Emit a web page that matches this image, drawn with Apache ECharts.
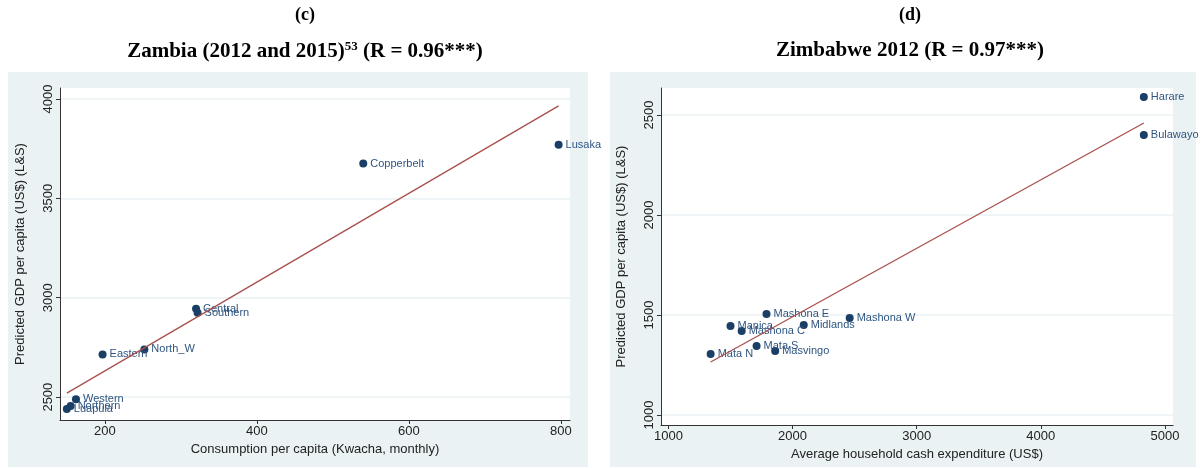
<!DOCTYPE html>
<html>
<head>
<meta charset="utf-8">
<script src="https://cdn.jsdelivr.net/npm/echarts@6/dist/echarts.min.js"></script>
<style>
  body { margin: 0; background: #fff; }
  #chart { width: 1203px; height: 468px; }
</style>
</head>
<body>
<div id="chart"></div>
<script>
// Zambia
const zNames = ['Lusaka', 'Copperbelt', 'Central', 'Southern', 'North_W', 'Eastern', 'Western', 'Northern', 'Luapula']
const zX = [797, 540, 320, 322, 252, 197, 162, 155, 150]
const zY = [3770, 3675, 2945, 2925, 2740, 2715, 2490, 2455, 2440]
const zFit = [[150, 2520], [797, 3965]]
const zTicksX = [200, 400, 600, 800]
const zTicksY = [2500, 3000, 3500, 4000]

// Zimbabwe
const wNames = ['Harare', 'Bulawayo', 'Mashona E', 'Mashona W', 'Midlands', 'Manica', 'Mashona C', 'Mata S', 'Masvingo', 'Mata N']
const wX = [4830, 4830, 1790, 2460, 2090, 1500, 1590, 1710, 1860, 1340]
const wY = [2590, 2400, 1505, 1485, 1450, 1445, 1420, 1345, 1320, 1305]
const wFit = [[1340, 1265], [4830, 2460]]
const wTicksX = [1000, 2000, 3000, 4000, 5000]
const wTicksY = [1000, 1500, 2000, 2500]

const navy = '#1a3f66'
const maroon = '#a8504c'
const panelBg = '#eaf2f3'

function pts(xs, ys, names) {
  return xs.map((x, i) => ({ value: [x, ys[i]], name: names[i] }))
}

function xAxis(idx, min, max, ticks, name) {
  return {
    gridIndex: idx, type: 'value', min, max,
    name, nameLocation: 'middle', nameGap: 22,
    nameTextStyle: { fontFamily: 'Liberation Sans', fontSize: 13, color: '#222' },
    axisLine: { lineStyle: { color: '#333' } },
    axisTick: { length: 4, customValues: ticks, lineStyle: { color: '#333' } },
    axisLabel: { fontFamily: 'Liberation Sans', fontSize: 13, color: '#222', margin: 5,
      customValues: ticks, formatter: v => String(v) },
    splitLine: { show: false }
  }
}
function yAxis(idx, min, max, ticks, name) {
  return {
    gridIndex: idx, type: 'value', min, max,
    name, nameLocation: 'middle', nameGap: 33,
    nameTextStyle: { fontFamily: 'Liberation Sans', fontSize: 13, color: '#222' },
    axisLine: { show: true, lineStyle: { color: '#333' } },
    axisTick: { show: true, length: 4, customValues: ticks, lineStyle: { color: '#333' } },
    axisLabel: { fontFamily: 'Liberation Sans', fontSize: 13, color: '#222', rotate: 90, margin: 5,
      customValues: ticks, formatter: v => String(v) },
    splitLine: { lineStyle: { color: panelBg, width: 1.5 } }
  }
}

const labelStyle = { show: true, position: 'right', distance: 3, formatter: p => p.name,
  color: '#2f5580', fontFamily: 'Liberation Sans', fontSize: 11 }

const chart = echarts.init(document.getElementById('chart'))
chart.setOption({
  animation: false,
  title: [
    { text: '(c)', left: 300, textAlign: 'center', top: 1,
      textStyle: { fontFamily: 'Liberation Serif', fontWeight: 'bold', fontSize: 18, color: '#000' } },
    { text: '{t|Zambia (2012 and 2015)}{s|53}{t| (R = 0.96***)}', left: 300, textAlign: 'center', top: 35,
      textStyle: { rich: {
        t: { fontFamily: 'Liberation Serif', fontWeight: 'bold', fontSize: 21, color: '#000' },
        s: { fontFamily: 'Liberation Serif', fontWeight: 'bold', fontSize: 13, color: '#000', verticalAlign: 'top', padding: [0, 0, 10, 0] } } } },
    { text: '(d)', left: 905, textAlign: 'center', top: 1,
      textStyle: { fontFamily: 'Liberation Serif', fontWeight: 'bold', fontSize: 18, color: '#000' } },
    { text: 'Zimbabwe 2012 (R = 0.97***)', left: 905, textAlign: 'center', top: 35,
      textStyle: { fontFamily: 'Liberation Serif', fontWeight: 'bold', fontSize: 21, color: '#000' } }
  ],
  graphic: [
    { type: 'rect', z: -10, shape: { x: 8, y: 72, width: 580, height: 395 }, style: { fill: panelBg } },
    { type: 'rect', z: -10, shape: { x: 610, y: 72, width: 586, height: 395 }, style: { fill: panelBg } }
  ],
  grid: [
    { left: 60, top: 88, width: 510, height: 332, show: true, backgroundColor: '#fff', borderWidth: 0 },
    { left: 661, top: 88, width: 512, height: 337, show: true, backgroundColor: '#fff', borderWidth: 0 }
  ],
  xAxis: [
    xAxis(0, 141, 812, zTicksX, 'Consumption per capita (Kwacha, monthly)'),
    xAxis(1, 940, 5065, wTicksX, 'Average household cash expenditure (US$)')
  ],
  yAxis: [
    yAxis(0, 2385, 4055, zTicksY, 'Predicted GDP per capita (US$) (L&S)'),
    yAxis(1, 950, 2635, wTicksY, 'Predicted GDP per capita (US$) (L&S)')
  ],
  series: [
    { type: 'line', xAxisIndex: 0, yAxisIndex: 0, data: zFit, symbol: 'none',
      lineStyle: { color: maroon, width: 1.3 }, silent: true },
    { type: 'scatter', xAxisIndex: 0, yAxisIndex: 0, data: pts(zX, zY, zNames), symbolSize: 8,
      itemStyle: { color: navy, opacity: 1 }, label: labelStyle },
    { type: 'line', xAxisIndex: 1, yAxisIndex: 1, data: wFit, symbol: 'none',
      lineStyle: { color: maroon, width: 1.3 }, silent: true },
    { type: 'scatter', xAxisIndex: 1, yAxisIndex: 1, data: pts(wX, wY, wNames), symbolSize: 8,
      itemStyle: { color: navy, opacity: 1 }, label: labelStyle }
  ]
})
</script>
</body>
</html>
